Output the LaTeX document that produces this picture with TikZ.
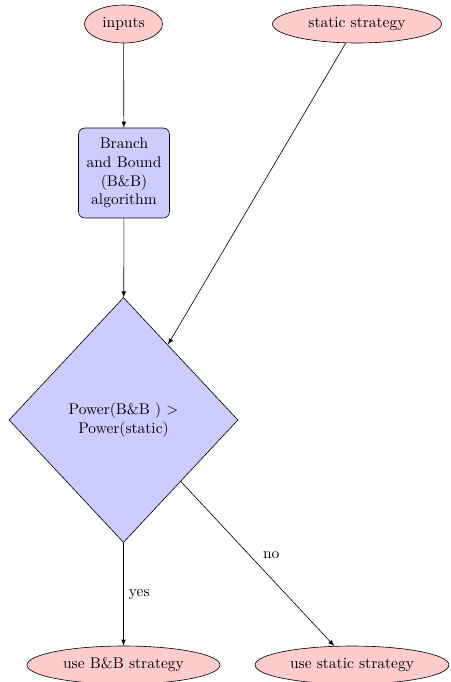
\documentclass[tikz,border=0pt]{standalone}
\usetikzlibrary{shapes.geometric}
\begin{document}
\begin{tikzpicture}[x=0.645pt, y=-0.645pt,
        terminal/.style={ellipse, draw, fill=red!20, minimum height=24.5pt, inner sep=0pt},
        block/.style={rectangle, draw, fill=blue!20, text width=5.2em, align=center, rounded corners, minimum height=58pt},
        decision/.style={diamond, draw, fill=blue!20, align=center, minimum width=147.7pt, minimum height=158pt, inner sep=0pt},
        line/.style={draw, -latex}]
        \useasboundingbox (0, 0) rectangle (450, 682);

        \node[terminal, minimum width=50.3pt] (inputs) at (123.5, 24) {inputs};
        \node[terminal, minimum width=109pt] (static) at (357, 24) {static strategy};
        \node[block] (bnb) at (124, 173) {Branch and Bound (B\&B) algorithm};
        \node[decision] (decide) at (123.5, 420) {Power(B\&B ) $>$\\Power(static)};
        \node[terminal, minimum width=124.5pt] (usebnb) at (123.5, 665) {use B\&B strategy};
        \node[terminal, minimum width=125pt] (usestatic) at (352, 665) {use static strategy};

        \draw[line] (inputs) -- (bnb);
        \draw[line] (bnb) -- (decide);
        \draw[line] (static) -- (decide);
        \draw[line] (decide) -- node[auto] {yes} (usebnb);
        \draw[line] (decide) -- node[auto] {no} (usestatic);

    \end{tikzpicture}
\end{document}
